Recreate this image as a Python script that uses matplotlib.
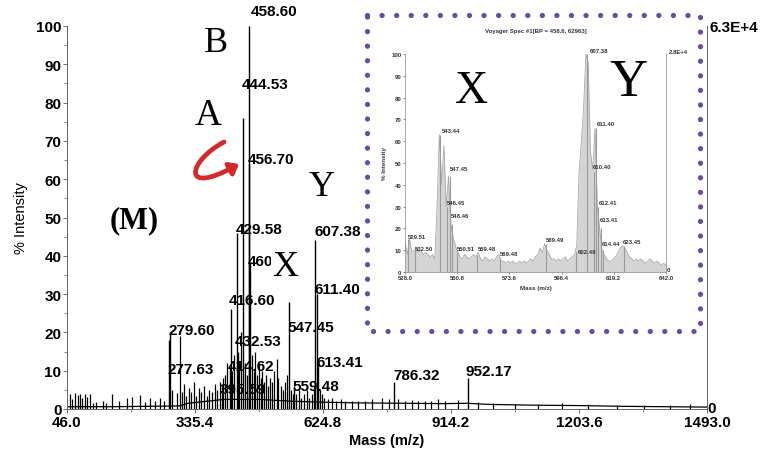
import numpy as np
import matplotlib
matplotlib.use("Agg")
from matplotlib import pyplot as plt
from matplotlib.lines import Line2D
from matplotlib.patches import FancyArrowPatch
from matplotlib.path import Path

plt.rcParams["font.family"] = ["Liberation Sans", "DejaVu Sans"]

W, H = 762, 452

# Full-range spectrum: labelled peaks (m/z, % intensity)
peak_mz = [277.63, 279.60, 395.59, 414.62, 416.60, 429.58, 432.53, 444.53,
           456.70, 458.60, 460.60, 547.45, 559.48, 607.38, 611.40, 613.41,
           786.32, 952.17]
peak_int = [18, 20, 6, 11, 26, 46, 15, 76,
            64, 100, 38, 28, 6, 44, 30, 12,
            7, 8]
peak_text = ["277.63", "279.60", "395.59", "414.62", "416.60", "429.58", "432.53", "444.53",
             "456.70", "458.60", "460.60", "547.45", "559.48", "607.38", "611.40", "613.41",
             "786.32", "952.17"]
# where each label sits (m/z of left edge, % intensity of centre)
label_x = [272.1, 274.4, 391.9, 410.0, 412.3, 428.1, 425.8, 441.7,
           455.2, 462.0, 455.2, 543.4, 554.7, 604.5, 604.5, 609.0,
           783.1, 945.9]
label_y = [10.4, 20.6, 5.2, 11.2, 28.5, 47.0, 17.8, 84.9,
           65.3, 103.9, 38.6, 21.4, 6.0, 46.5, 31.3, 12.3,
           8.9, 9.9]

# unlabelled minor peaks
minor_mz = [53, 58, 64, 71, 75, 80, 86, 91, 98, 104, 112, 128, 134, 148, 164, 182,
            193, 211, 222, 234, 246, 256, 266, 283, 295, 302, 306, 311, 316, 321,
            327, 333, 338, 344, 350, 356, 362, 368, 374, 380, 386, 392, 399, 404,
            408, 420, 424, 436, 440, 448, 452, 464, 468, 472, 476, 480, 484, 488,
            492, 496, 500, 505, 510, 515, 520, 524, 530, 535, 540, 543, 552, 556,
            564, 570, 576, 582, 588, 594, 600, 604, 617, 622, 628, 636, 645, 655,
            665, 675, 690, 705, 720, 735, 758, 775, 795, 810, 825, 840, 855, 870,
            885, 900, 930, 975, 1010, 1060, 1110, 1165, 1224, 1290, 1350, 1410, 1455]
minor_int = [4.0, 2.5, 4.2, 3.6, 4.0, 2.8, 3.8, 3.2, 4.0, 1.5, 1.8, 2.2, 1.6, 4.0, 2.0, 3.0,
             3.2, 3.6, 1.8, 2.8, 2.0, 3.0, 2.2, 5.0, 4.2, 19, 4.5, 6.5, 3.5, 5.5,
             4.5, 7.0, 3.5, 5.5, 4.5, 6.0, 3.5, 5.0, 4.5, 6.5, 5.0, 7.0, 8.0, 9.0,
             12, 10, 14, 12, 20, 12, 9, 14, 10, 15, 9, 12, 8, 10,
             7, 9, 6, 8, 7, 10, 13, 8, 6, 5, 7, 9, 5, 4,
             4, 5, 3, 4, 5, 3, 4, 6, 5, 4, 3, 2.5, 3, 2,
             2.5, 2, 2, 2.2, 2, 2.5, 3, 2.5, 2.5, 2, 2.3, 2, 2.2, 2,
             2.5, 2, 2.4, 1.8, 1.6, 1.4, 1.3, 1.5, 1.4, 1.0, 1.0, 1.0, 1.3]

# baseline level along the mass range
base_mz = [46, 150, 300, 320, 400, 480, 560, 620, 700, 800, 900, 950, 1000, 1100, 1200, 1300, 1400, 1493]
base_int = [0.6, 0.6, 0.8, 1.5, 2.5, 2.5, 2.0, 1.8, 1.6, 1.5, 1.4, 1.5, 1.2, 1.0, 0.9, 0.7, 0.6, 0.5]

x_ticks = [46.0, 335.4, 624.8, 914.2, 1203.6, 1493.0]

# Zoomed region 528-642
zoom_mz = list(range(528, 643))
zoom_profile = [14, 8, 15, 9, 10, 11, 9, 10, 8, 9,
                8, 7, 8, 6, 30, 63, 40, 58, 30, 44,
                22, 16, 12, 9, 7, 6, 8, 7, 6, 7,
                8, 7, 9, 6, 5, 7, 6, 5, 6, 5,
                7, 8, 5, 5, 4, 5, 4, 5, 4, 4,
                5, 4, 5, 4, 5, 6, 5, 7, 8, 11,
                9, 13, 10, 8, 6, 6, 5, 6, 5, 6,
                7, 5, 6, 7, 8, 12, 45, 60, 75, 100,
                96, 55, 47, 66, 30, 20, 10, 8, 6, 5,
                5, 6, 7, 9, 11, 12, 11, 9, 7, 6,
                5, 6, 5, 6, 5, 4, 5, 6, 5, 4,
                5, 4, 3, 4, 3]
zoom_peak_mz = [529.51, 532.50, 543.44, 546.45, 547.45, 548.46, 550.51, 559.48, 569.48,
                589.49, 602.48, 607.38, 610.40, 611.40, 612.41, 613.41, 614.44, 623.45]
zoom_peak_int = [15, 10, 63, 30, 44, 22, 9, 8, 6,
                 13, 9, 100, 46, 66, 30, 20, 10, 12]
zoom_label_x = [529.3, 532.4, 544.2, 546.3, 547.7, 548.1, 550.7, 559.9, 569.5,
                589.6, 603.6, 608.8, 610.1, 611.9, 612.7, 613.2, 614.0, 623.2]
zoom_label_y = [16.1, 10.6, 64.7, 32.1, 47.7, 26.1, 11.0, 10.6, 8.7,
                15.1, 9.6, 101.4, 48.2, 68.3, 31.7, 23.9, 13.3, 14.2]
zoom_ticks = [528.0, 550.8, 573.6, 596.4, 619.2, 642.0]


def fig_xy(x, y):
    return x / W, 1 - y / H


fig = plt.figure(figsize=(W / 100, H / 100), dpi=100)

# ---- main spectrum ----
ax = fig.add_axes([67 / W, 1 - 410 / H, 640 / W, 383 / H])
ax.plot(base_mz, base_int, color="black", lw=0.9)
ax.vlines(minor_mz, 0, minor_int, color="black", lw=0.9)
ax.vlines(peak_mz, 0, peak_int, color="black", lw=1.0)
for txt, lx, ly in zip(peak_text, label_x, label_y):
    ax.text(lx, ly, txt, ha="left", va="center", fontsize=11, fontweight="bold",
            clip_on=False, zorder=4)

ax.set_xlim(46.0, 1493.0)
ax.set_ylim(0, 100)
ax.set_xticks(x_ticks)
ax.set_xticklabels([f"{t:.1f}" for t in x_ticks])
ax.set_xticks([(a + b) / 2 for a, b in zip(x_ticks[:-1], x_ticks[1:])], minor=True)
ax.set_yticks(range(0, 101, 10))
ax.set_yticks(range(5, 100, 10), minor=True)
ax.tick_params(axis="both", which="major", labelsize=11, length=3, width=0.6,
               color="#555555", pad=1)
ax.tick_params(axis="both", which="minor", length=2, width=0.5, color="#555555")
for lab in ax.get_xticklabels() + ax.get_yticklabels():
    lab.set_fontweight("bold")
ax.spines["top"].set_visible(False)
for s in ["left", "bottom", "right"]:
    ax.spines[s].set_color("#666666")
    ax.spines[s].set_linewidth(0.7)
ax.set_xlabel("Mass (m/z)", fontsize=10.5, fontweight="bold", labelpad=3)
ax.set_ylabel("% Intensity", fontsize=10.5, labelpad=6)

fig.text(*fig_xy(709, 28), "6.3E+4", ha="left", va="center", fontsize=11, fontweight="bold")
fig.text(*fig_xy(707, 409), "0", ha="left", va="center", fontsize=11, fontweight="bold")

# fragment letters
serif = ["Liberation Serif", "DejaVu Serif"]
fig.text(*fig_xy(216, 43), "B", family=serif, fontsize=26, ha="center", va="center")
fig.text(*fig_xy(208, 116), "A", family=serif, fontsize=27, ha="center", va="center")
fig.text(*fig_xy(134, 221), "(M)", family=serif, fontsize=22, fontweight="bold",
         ha="center", va="center")
fig.text(*fig_xy(322, 188), "Y", family=serif, fontsize=26, ha="center", va="center")
fig.text(*fig_xy(285, 268), "X", family=serif, fontsize=26, ha="center", va="center",
         zorder=6, bbox=dict(facecolor="white", edgecolor="none", pad=0.5))

# red curved arrow
pts = [fig_xy(224, 143), fig_xy(188, 162), fig_xy(180, 198), fig_xy(239, 165)]
arrow = FancyArrowPatch(path=Path(pts, [Path.MOVETO, Path.CURVE4, Path.CURVE4, Path.CURVE4]),
                        arrowstyle="-|>,head_length=5,head_width=4", color="#d42a2a",
                        lw=3.4, transform=fig.transFigure, zorder=7)
fig.add_artist(arrow)

# ---- inset with the X / Y region ----
ai = fig.add_axes([405 / W, 1 - 273 / H, 261 / W, 218 / H])
ai.set_facecolor("white")
ai.fill_between(zoom_mz, 0, zoom_profile, color="#d4d4d4", lw=0)
ai.plot(zoom_mz, zoom_profile, color="#a8a8a8", lw=0.6)
ai.vlines(zoom_peak_mz, 0, zoom_peak_int, color="#9a9a9a", lw=0.8)
for lx, ly, m in zip(zoom_label_x, zoom_label_y, zoom_peak_mz):
    ai.text(lx, ly, f"{m:.2f}", ha="left", va="center", fontsize=4.3,
            fontweight="bold", color="#333333", clip_on=False)
ai.set_xlim(528.0, 642.0)
ai.set_ylim(0, 100)
ai.set_xticks(zoom_ticks)
ai.set_xticklabels([f"{t:.1f}" for t in zoom_ticks])
ai.set_yticks(range(0, 101, 10))
ai.tick_params(labelsize=4.3, length=1.5, width=0.4, pad=1, colors="#333333")
for lab in ai.get_xticklabels() + ai.get_yticklabels():
    lab.set_fontweight("bold")
ai.spines["top"].set_visible(False)
for s in ["left", "bottom", "right"]:
    ai.spines[s].set_color("#888888")
    ai.spines[s].set_linewidth(0.5)
ai.set_xlabel("Mass (m/z)", fontsize=4.5, fontweight="bold", color="#333333", labelpad=3)
ai.set_ylabel("% Intensity", fontsize=4.5, fontweight="bold", color="#333333", labelpad=3)
ai.set_title("Voyager Spec #1[BP = 458.6, 62963]", fontsize=4.3, fontweight="bold",
             color="#333333", pad=16)
fig.text(*fig_xy(678, 53), "2.8E+4", ha="center", va="center", fontsize=4.3,
         fontweight="bold", color="#333333")
fig.text(*fig_xy(667, 271), "0", ha="left", va="center", fontsize=4.3,
         fontweight="bold", color="#333333")
fig.text(*fig_xy(472, 92), "X", family=serif, fontsize=33, ha="center", va="center")
fig.text(*fig_xy(628, 83), "Y", family=serif, fontsize=38, ha="center", va="center")

# dotted purple frame
fx, fy = zip(*[fig_xy(367, 16), fig_xy(700, 16), fig_xy(700, 332), fig_xy(367, 332), fig_xy(367, 16)])
fig.add_artist(Line2D(fx, fy, transform=fig.transFigure, color="#6b4ba6", lw=3.8,
                      linestyle=(0, (0.01, 2.75)), dash_capstyle="round"))

fig.savefig("out.png", dpi=100)
